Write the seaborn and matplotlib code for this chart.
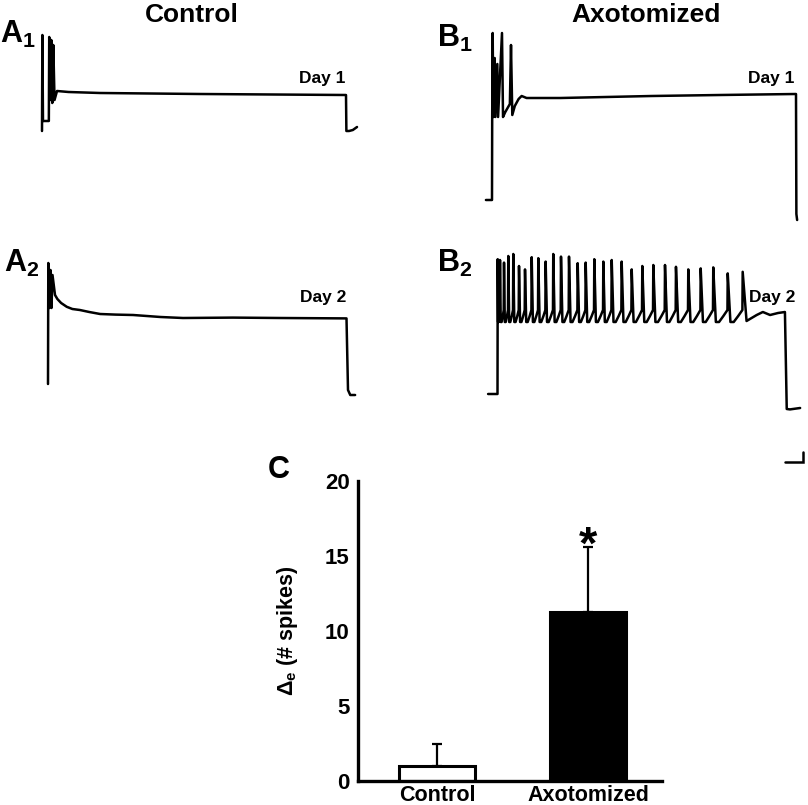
import matplotlib
matplotlib.use("Agg")
import matplotlib.pyplot as plt
import seaborn as sns

# ---- recorded traces: vertices read off the figure
# time in ms from current-step onset, membrane potential in mV
a1_t = [0, 1, 2.6, 18, 19, 22, 24.5, 27, 29.7, 33, 39.5, 70, 153, 416, 800, 801, 808, 818, 829]
a1_v = [-65, -17, -60, -60, -18, -49.5, -19.5, -51, -22, -49.5, -45, -45.5, -46, -46.5, -47, -65,
        -65, -64.5, -63]

a2_t = [0, 0.8, 3.5, 6.7, 9.3, 12, 18.7, 25, 35, 50, 65, 85, 110, 139, 180, 227, 300, 360, 493,
        620, 796, 800, 806, 819]
a2_v = [-65, -4.5, -27, -8, -27, -10.5, -20.5, -22.5, -24.5, -26.4, -27.5, -28, -29, -30, -30.3,
        -30.5, -31.5, -32, -31.8, -32, -32.2, -68, -70.5, -70.5]

b1_t = [-16, 0, 0.5, 1.8, 3.5, 7.1, 8.8, 14, 16, 26.3, 29, 35, 47, 50, 53.4, 60, 70, 78, 91,
        180, 420, 600, 800, 801, 803]
b1_v = [-65, -65, -23.5, 18.5, -23.5, 6, -23.5, 3, -23.5, 18.5, -23.5, -21, -17, 12.5, -22.5,
        -18, -14.5, -13, -14, -14, -13, -12.5, -12, -72, -75]

# B2: repetitive firing, spike times and peaks
b2_spike_t = [0.6, 6.9, 18, 29.8, 43.6, 59.4, 76, 94.5, 112.7, 133, 154, 175.4, 197.5, 221.5,
              243.6, 267.4, 292.3, 315.5, 343, 370.7, 400, 430.4, 462.7, 493, 527, 561.3, 596,
              636, 677.3]
b2_spike_v = [2.4, 2, 0.7, 4, 5, -1, -2.7, 3.4, 2.9, 1.2, 5, 3.7, 3.7, 0.4, 0.7, 2.4, 1.2, 2,
              1.2, -2.7, -1, -0.5, -0.5, -1.4, -2.7, -2.2, -1.7, -4.7, -3.9]
b2_threshold = -23
b2_ahp = -29
b2_pre_t = [-26, 0]
b2_pre_v = [-65, -65]
b2_post_t = [688, 716, 733, 753, 775, 794, 799, 808, 836]
b2_post_v = [-28.5, -25.5, -24, -25.5, -24.5, -24, -72.5, -72.7, -72]

scalebar_ms = 50
scalebar_mv = 5

# ---- summary bars
groups = ["Control", "Axotomized"]
spikes_mean = [1.0, 11.3]
spikes_sem = [1.5, 4.3]

W, H = 808, 805
REST_MV = -65
PX_PER_MV = 2.0

sns.set_style("white")
plt.rcParams["font.family"] = ["Liberation Sans", "DejaVu Sans"]
plt.rcParams["font.weight"] = "bold"
plt.rcParams["text.color"] = "black"
plt.rcParams["axes.labelcolor"] = "black"
plt.rcParams["mathtext.fontset"] = "custom"
plt.rcParams["mathtext.rm"] = "Liberation Sans"
plt.rcParams["mathtext.bf"] = "Liberation Sans:bold"
plt.rcParams["mathtext.it"] = "Liberation Sans:bold"

fig = plt.figure(figsize=(W / 100, H / 100), dpi=100)


def trace_axes(onset_px, px_per_ms, rest_px, t_lim=(-40, 860), v_lim=(-80, 30)):
    left = onset_px + t_lim[0] * px_per_ms
    right = onset_px + t_lim[1] * px_per_ms
    top = rest_px - (v_lim[1] - REST_MV) * PX_PER_MV
    bottom = rest_px - (v_lim[0] - REST_MV) * PX_PER_MV
    ax = fig.add_axes([left / W, 1 - bottom / H, (right - left) / W, (bottom - top) / H])
    ax.set_xlim(t_lim)
    ax.set_ylim(v_lim)
    ax.axis("off")
    return ax


def draw(ax, t, v):
    sns.lineplot(x=t, y=v, sort=False, estimator=None, color="black", lw=1.8, ax=ax)


# build B2 polyline from the spike list
b2_t = list(b2_pre_t)
b2_v = list(b2_pre_v)
for i, (ts, vs) in enumerate(zip(b2_spike_t, b2_spike_v)):
    if i > 0:
        b2_t.append(ts - 0.8)
        b2_v.append(b2_threshold)
    b2_t.append(ts)
    b2_v.append(vs)
    if i + 1 < len(b2_spike_t):
        gap = b2_spike_t[i + 1] - ts
        b2_t += [ts + 0.18 * gap, ts + 0.4 * gap, ts + 0.7 * gap]
        b2_v += [b2_ahp, b2_ahp, b2_ahp + 3]
b2_t += b2_post_t
b2_v += b2_post_v

ax_a1 = trace_axes(42, 0.38, 131)
draw(ax_a1, a1_t, a1_v)
ax_a2 = trace_axes(48, 0.375, 384)
draw(ax_a2, a2_t, a2_v)
ax_b1 = trace_axes(492, 0.38, 200)
draw(ax_b1, b1_t, b1_v)
ax_b2 = trace_axes(497.5, 0.362, 394)
draw(ax_b2, b2_t, b2_v)

# scale bar under B2
sb_x = 844
sb_y = -99
ax_b2.plot([sb_x - scalebar_ms, sb_x, sb_x], [sb_y, sb_y, sb_y + scalebar_mv],
           color="black", lw=1.8, clip_on=False, solid_joinstyle="miter")


def ftext(x, y, s, size, **kw):
    fig.text(x / W, 1 - y / H, s, fontsize=size, fontweight="bold", color="black", **kw)


ftext(192, 22, "Control", 19, ha="center", va="baseline")
ftext(646, 22, "Axotomized", 19, ha="center", va="baseline")
ftext(0, 43, r"$\mathbf{A_1}$", 22, ha="left", va="baseline")
ftext(437, 47, r"$\mathbf{B_1}$", 22, ha="left", va="baseline")
ftext(4, 272, r"$\mathbf{A_2}$", 22, ha="left", va="baseline")
ftext(437, 272, r"$\mathbf{B_2}$", 22, ha="left", va="baseline")
ftext(268, 478, "C", 22, ha="left", va="baseline")
ftext(322, 83, "Day 1", 12.5, ha="center", va="baseline")
ftext(771, 83, "Day 1", 12.5, ha="center", va="baseline")
ftext(323, 302, "Day 2", 12.5, ha="center", va="baseline")
ftext(772, 302, "Day 2", 12.5, ha="center", va="baseline")

# ---- panel C
ax = fig.add_axes([358 / W, 1 - 781 / H, 304 / W, 300 / H])
sns.barplot(x=groups, y=spikes_mean, hue=groups, palette={"Control": "white", "Axotomized": "black"},
            edgecolor="black", linewidth=2.2, width=0.5, legend=False, ax=ax)
ax.errorbar(x=[0, 1], y=spikes_mean, yerr=[[0, 0], spikes_sem], fmt="none", ecolor="black",
            elinewidth=1.6, capsize=3.5, capthick=1.6, zorder=5)
ax.text(1, spikes_mean[1] + spikes_sem[1] - 0.8, "*", ha="center", va="baseline",
        fontsize=34, fontweight="bold", color="black")
ax.set_xlim(-0.523, 1.49)
ax.set_ylim(0, 20)
ax.set_yticks([0, 5, 10, 15, 20])
sns.despine(ax=ax)
for side in ["left", "bottom"]:
    ax.spines[side].set_linewidth(2.4)
    ax.spines[side].set_color("black")
ax.tick_params(axis="y", direction="out", length=5, width=2.4, pad=1, labelsize=16, colors="black")
ax.tick_params(axis="x", length=0, pad=3, labelsize=15.5, colors="black")
for lab in ax.get_xticklabels() + ax.get_yticklabels():
    lab.set_fontweight("bold")
ax.set_ylabel(r"$\mathrm{\Delta_e}$ (# spikes)", fontsize=15.5, fontweight="bold")
ax.yaxis.set_label_coords(-0.19, 0.5)
ax.patch.set_alpha(0)

fig.savefig("out.png", dpi=100)
